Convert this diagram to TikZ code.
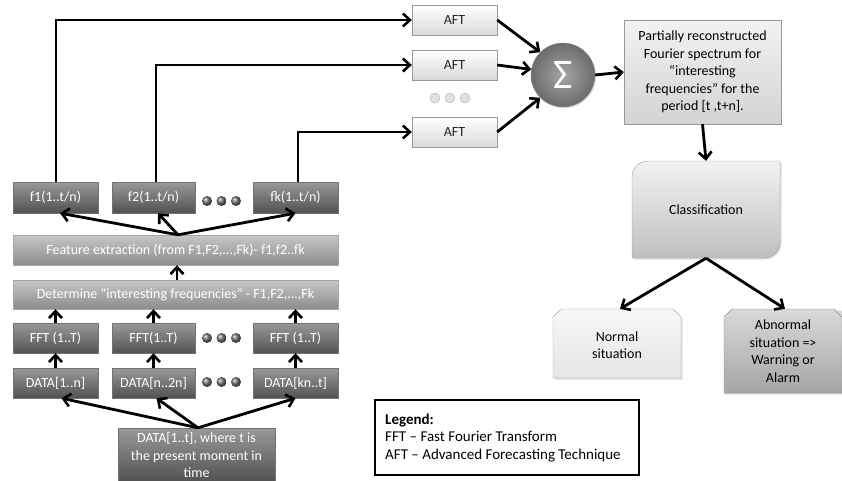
\documentclass[tikz,border=0pt]{standalone}
\usepackage{fontspec}
\setmainfont{Carlito}
\usetikzlibrary{arrows.meta,calc,shadows}
\newcommand\fsz{\fontsize{14}{17.5}\selectfont}
\tikzset{
  base/.style={inner sep=0pt, font=\fsz, align=center,
    drop shadow={shadow xshift=1.2pt, shadow yshift=-1.2pt, opacity=0.25}},
  darkbox/.style={base, draw=black!55, top color=black!40, bottom color=black!68, text=white,
    minimum width=85pt, minimum height=31pt},
  widebox/.style={base, draw=black!35, top color=black!22, bottom color=black!45, text=white,
    minimum width=325pt},
  aftbox/.style={base, draw=black!40, top color=white, bottom color=black!15, text=black!85,
    minimum width=85pt, minimum height=30pt},
  arr/.style={line width=2.8pt, -{Straight Barb[length=7pt,width=13pt,line width=2.6pt]}},
  darkdot/.style={circle, inner sep=0pt, minimum size=10pt, shading=ball, ball color=black!55},
  lightdot/.style={circle, inner sep=0pt, minimum size=10pt, draw=black!30, fill=black!12},
}
\begin{document}
\begin{tikzpicture}[x=1pt,y=-1pt]
\useasboundingbox (0,0) rectangle (842,480);

% left column
\node[darkbox] (f1) at (55.5,197.5) {f1(1..t/n)};
\node[darkbox, minimum width=83pt] (f2) at (153.5,197.5) {f2(1..t/n)};
\node[darkbox] (fk) at (295.5,197.5) {fk(1..t/n)};
\node[widebox, minimum height=30pt] (feat) at (175.5,250) {Feature extraction (from F1,F2,...,Fk)- f1,f2..fk};
\node[widebox, minimum height=29pt] (det) at (175.5,294.5) {Determine “interesting frequencies” - F1,F2,...,Fk};
\node[darkbox, minimum height=30pt] (fft1) at (55.5,338) {FFT (1..T)};
\node[darkbox, minimum height=30pt, minimum width=83pt] (fft2) at (153.5,338) {FFT(1..T)};
\node[darkbox, minimum height=30pt] (fft3) at (295.5,338) {FFT (1..T)};
\node[darkbox, minimum height=30pt] (d1) at (55.5,383) {DATA[1..n]};
\node[darkbox, minimum height=30pt, minimum width=83pt] (d2) at (153.5,383) {DATA[n..2n]};
\node[darkbox, minimum height=30pt] (d3) at (295.5,383) {DATA[kn..t]};
\node[darkbox, minimum width=157pt, minimum height=54pt] (bot) at (196.5,455)
  {DATA[1..t], where t is\\the present moment in\\time};

% dots
\foreach \y/\r in {201/a,338/b,382/c}{
  \node[darkdot] (dl\r) at (207,\y) {};
  \node[darkdot] (dm\r) at (221.5,\y) {};
  \node[darkdot] (dr\r) at (236,\y) {};
}
\node[lightdot] (ta) at (435,98) {};
\node[lightdot] (tb) at (450,98) {};
\node[lightdot] (tc) at (465,98) {};

% AFT
\node[aftbox] (aft1) at (454.5,20) {AFT};
\node[aftbox] (aft2) at (454.5,65) {AFT};
\node[aftbox] (aft3) at (454.5,132) {AFT};

% sigma
\node[circle, minimum size=64pt, inner sep=0pt, draw=black!45, inner color=black!35, outer color=black!58,
  text=white, font=\fontsize{42}{42}\selectfont,
  drop shadow={shadow xshift=1.2pt, shadow yshift=-1.2pt, opacity=0.25}] (sig) at (563,75) {Σ};

% partial
\node[base, draw=black!40, top color=black!5, bottom color=black!17, minimum width=157pt, minimum height=104pt]
  (part) at (702.5,72)
  {Partially reconstructed\\Fourier spectrum for\\“interesting\\frequencies” for the\\period [t ,t+n].};

% classification shape
\fill[black!25, opacity=0.5] (781.5,162.5) -- (649.5,162.5) arc(270:180:16) -- (633.5,259.5) -- (765.5,259.5) arc(90:0:16) -- cycle;
\draw[draw=black!40, top color=black!5, bottom color=black!25]
  (780,161) -- (648,161) arc(270:180:16) -- (632,258) -- (764,258) arc(90:0:16) -- cycle;
\node[font=\fsz, minimum width=148pt, minimum height=97pt, inner sep=0pt] (cls) at (706,209.5) {Classification};

% normal & abnormal shapes
\fill[black!25, opacity=0.5] (562.5,310.5) -- (674.5,310.5) -- (682.5,318.5) -- (682.5,379.5) -- (554.5,379.5) -- (554.5,318.5) -- cycle;
\draw[draw=black!35, top color=black!3, bottom color=black!10]
  (561,309) -- (673,309) -- (681,317) -- (681,378) -- (553,378) -- (553,317) -- cycle;
\node[font=\fsz, align=center, minimum width=128pt, minimum height=69pt, inner sep=0pt] (norm) at (617,345) {Normal\\situation};

\fill[black!30, opacity=0.5] (733.5,310.5) -- (843,310.5) -- (843,394.5) -- (725.5,394.5) -- (725.5,318.5) -- cycle;
\draw[draw=black!45, top color=black!15, bottom color=black!35]
  (732,309) -- (834,309) -- (842,317) -- (842,393) -- (724,393) -- (724,317) -- cycle;
\node[font=\fsz, align=center, minimum width=118pt, minimum height=84pt, inner sep=0pt] (abn) at (783,351) {Abnormal\\situation =>\\Warning or\\Alarm};

% legend
\node[draw=black, line width=1.8pt, minimum width=264pt, minimum height=75pt, inner sep=0pt] (leg) at (507,437.5) {};
\node[font=\fontsize{15}{17.5}\selectfont, align=left, anchor=west, inner sep=0pt] (legtxt) at (385,438)
  {\textbf{Legend:}\\FFT – Fast Fourier Transform\\AFT – Advanced Forecasting Technique};

% connectors
\coordinate (fe) at ($(feat.north)+(2.5,0)$);
\coordinate (be) at ($(bot.north)+(1.5,0)$);
\draw[arr] ($(f1.north)+(0.5,0)$) |- (aft1.west);
\draw[arr] ($(f2.north)+(2.5,0)$) |- (aft2.west);
\draw[arr] ($(fk.north)+(2.5,0)$) |- (aft3.west);
\draw[arr] (fe) -- ($(f1.south)+(4.5,0)$);
\draw[arr] (fe) -- ($(f2.south)+(4.5,0)$);
\draw[arr] (fe) -- (fk.south);
\draw[arr] ($(det.north)+(1.5,0)$) -- ($(feat.south)+(1.5,0)$);
\foreach \n in {fft1,fft2,fft3}{
  \draw[arr] (\n.north) -- (\n.north |- det.south);
}
\draw[arr] (d1.north) -- (fft1.south);
\draw[arr] (d2.north) -- (fft2.south);
\draw[arr] (d3.north) -- (fft3.south);
\draw[arr] (be) -- ($(d1.south)+(6,0)$);
\draw[arr] (be) -- ($(d2.south)+(3,0)$);
\draw[arr] (be) -- (d3.south);
\draw[arr] (aft1.east) -- (sig.135);
\draw[arr] (aft2.east) -- (sig.170);
\draw[arr] (aft3.east) -- (sig.225);
\draw[arr] (sig.east) -- (part.west);
\draw[arr] (part.south) -- (cls.north);
\draw[arr] (cls.south) -- ($(norm.north)+(3,-1.5)$);
\draw[arr] (cls.south) -- ($(abn.north)+(2,0)$);
\end{tikzpicture}
\end{document}
